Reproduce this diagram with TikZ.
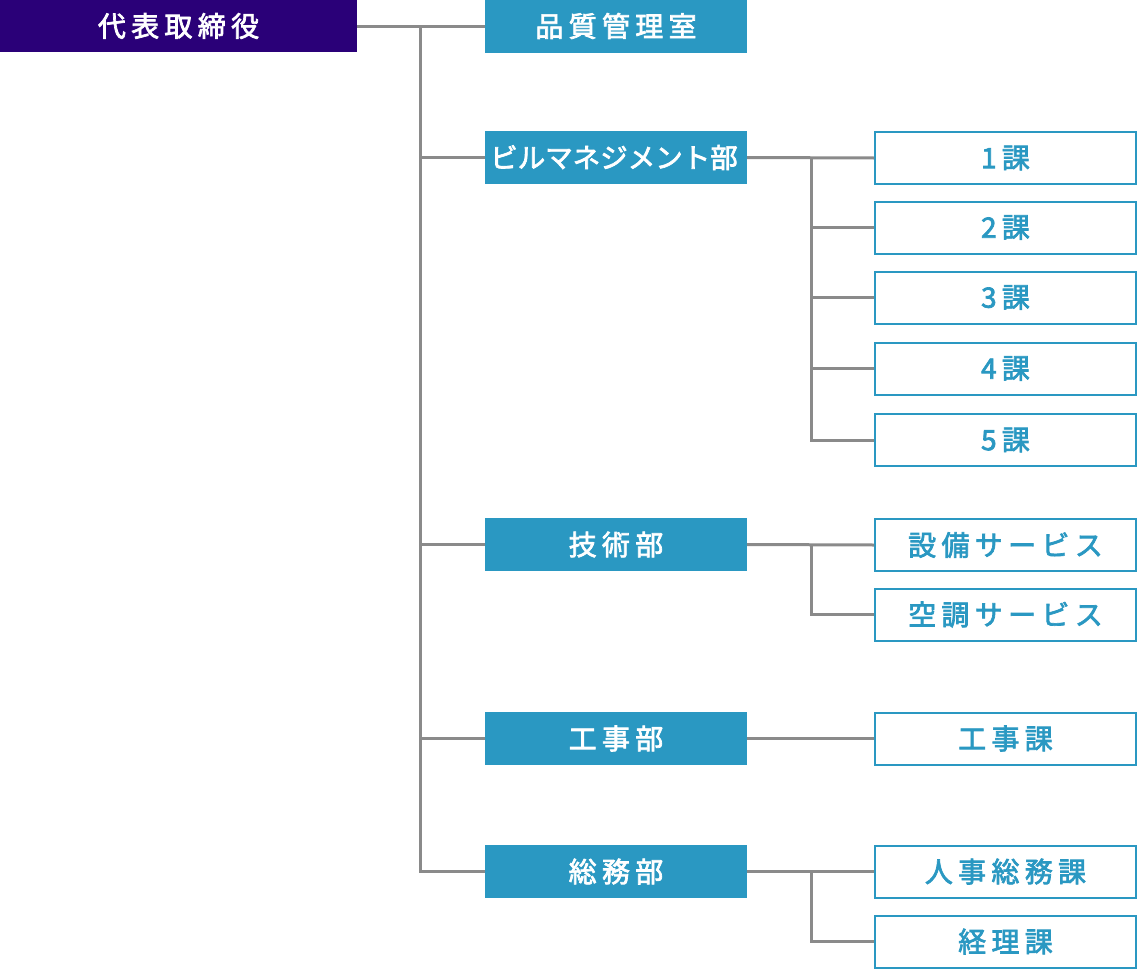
\documentclass[tikz,border=0pt]{standalone}
\usepackage{fontspec}
\newfontfamily\jpfont[LetterSpace=19]{Noto Sans CJK JP}
\newfontfamily\jptight{Noto Sans CJK JP}
\usetikzlibrary{positioning}

\definecolor{chiefpurple}{RGB}{42,0,120}
\definecolor{deptblue}{RGB}{42,152,194}
\definecolor{linegray}{RGB}{138,138,138}

\begin{document}
\begin{tikzpicture}[
    x=1pt, y=-1pt,
    font=\jpfont\fontsize{28}{32}\selectfont,
    % common styles
    medium/.style={execute at begin node={\special{pdf:literal direct 2 Tr 0.7 w}},
                   execute at end node={\special{pdf:literal direct 0 Tr}}},
    chief/.style={rectangle, medium, fill=chiefpurple, text=white, minimum width=357pt, minimum height=52pt, inner sep=0pt},
    dept/.style={rectangle, medium, fill=deptblue, text=white, minimum width=262pt, minimum height=53pt, inner sep=0pt},
    sectbox/.style={rectangle, medium, draw=deptblue, line width=2pt, fill=white, text=deptblue, minimum width=261pt, minimum height=52pt, inner sep=0pt},
    line/.style={draw=linegray, line width=3pt}
]
    \useasboundingbox (0,0) rectangle (1138,969);

    % --- 1. Nodes ---

    % top
    \node[chief] (ceo) at (178.5,26) {代表取締役};

    % departments
    \node[dept] (quality) at (616,26)    {品質管理室};
    \node[dept] (bldg)    at (616,157.5) {\hspace*{-4pt}\jptight\fontsize{27.5}{32}\selectfont ビルマネジメント部};
    \node[dept] (tech)    at (616,544.5) {技術部};
    \node[dept] (cons)    at (616,738.5) {工事部};
    \node[dept] (admin)   at (616,871.5) {総務部};

    % sections of the building management dept.
    \node[sectbox] (sec1) at (1005.5,158)   {1課};
    \node[sectbox] (sec2) at (1005.5,227.5) {2課};
    \node[sectbox] (sec3) at (1005.5,297.5) {3課};
    \node[sectbox] (sec4) at (1005.5,368.5) {4課};
    \node[sectbox] (sec5) at (1005.5,440)   {5課};

    % sections of the other depts.
    \node[sectbox] (equip)   at (1005.5,545)   {設備サービス};
    \node[sectbox] (aircon)  at (1005.5,614.5) {空調サービス};
    \node[sectbox] (conssec) at (1005.5,738.5) {工事課};
    \node[sectbox] (hr)      at (1005.5,871.5) {人事総務課};
    \node[sectbox] (acct)    at (1005.5,941.5) {経理課};

    % --- 2. Paths ---

    % main trunk
    \coordinate (trunk) at (420,26);
    \draw[line] (ceo.east) -- (quality.west);
    \draw[line] (trunk) |- (admin.west);
    \draw[line] (trunk |- bldg.west) -- (bldg.west);
    \draw[line] (trunk |- tech.west) -- (tech.west);
    \draw[line] (trunk |- cons.west) -- (cons.west);

    % building management branch
    \coordinate (bldgfork) at (811,158);
    \draw[line] (bldg.east) -- (sec1.west);
    \draw[line] (bldgfork) |- (sec5.west);
    \draw[line] (bldgfork |- sec2.west) -- (sec2.west);
    \draw[line] (bldgfork |- sec3.west) -- (sec3.west);
    \draw[line] (bldgfork |- sec4.west) -- (sec4.west);

    % technical branch
    \coordinate (techfork) at (811,545);
    \draw[line] (tech.east) -- (equip.west);
    \draw[line] (techfork) |- (aircon.west);

    % construction branch
    \draw[line] (cons.east) -- (conssec.west);

    % administration branch
    \coordinate (adminfork) at (811,871.5);
    \draw[line] (admin.east) -- (hr.west);
    \draw[line] (adminfork) |- (acct.west);

\end{tikzpicture}
\end{document}
